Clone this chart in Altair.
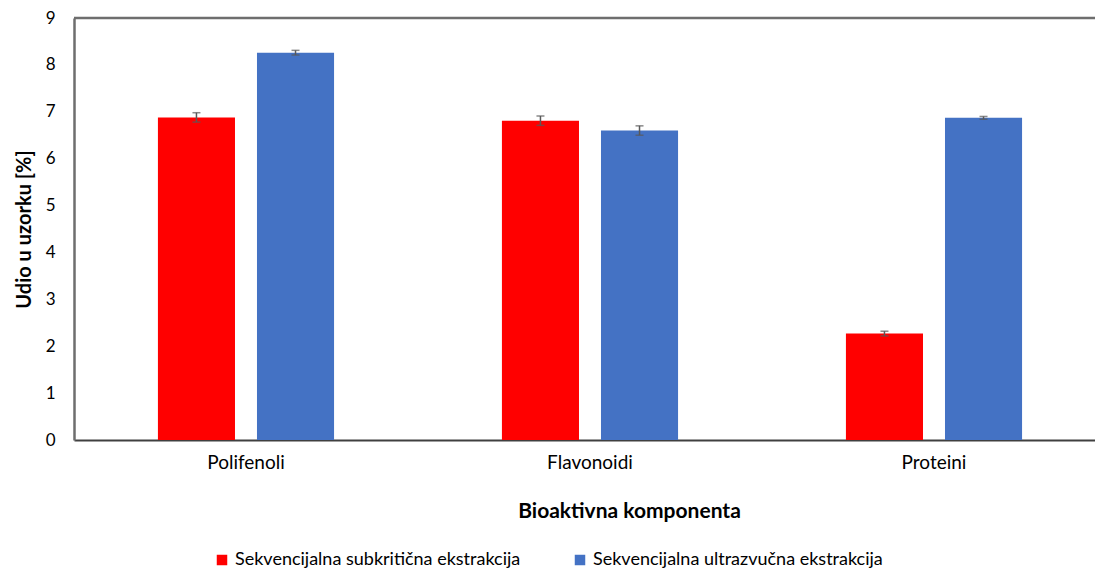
import altair as alt
import pandas as pd

categories = ["Polifenoli", "Flavonoidi", "Proteini"]
series = ["Sekvencijalna subkritična ekstrakcija", "Sekvencijalna ultrazvučna ekstrakcija"]
subcritical = [6.88, 6.81, 2.27]
subcritical_err = [0.10, 0.10, 0.05]
ultrasound = [8.26, 6.60, 6.87]
ultrasound_err = [0.05, 0.10, 0.03]
colors = ["#FF0000", "#4472C4"]

rows = []
for i, c in enumerate(categories):
    rows.append({"cat": c, "s": series[0], "v": subcritical[i], "lo": subcritical[i] - subcritical_err[i], "hi": subcritical[i] + subcritical_err[i]})
    rows.append({"cat": c, "s": series[1], "v": ultrasound[i], "lo": ultrasound[i] - ultrasound_err[i], "hi": ultrasound[i] + ultrasound_err[i]})
df = pd.DataFrame(rows)

FONT = "Lato"
W, H = 1021, 422
xscale = alt.Scale(paddingInner=0.488, paddingOuter=0.228, align=0.535)
xenc = alt.X("cat:N", sort=categories, title="Bioaktivna komponenta", scale=xscale,
             axis=alt.Axis(labelAngle=0, ticks=False, labelPadding=13, titlePadding=28,
                           titleX=555, titleAlign="center", titleAnchor="start",
                           labelFontSize=19, titleFontSize=21, labelFont=FONT, titleFont=FONT,
                           labelColor="#000", titleColor="#000", titleFontWeight="bold",
                           domainColor="#404040", domainWidth=2))
xoff = alt.XOffset("s:N", sort=series, scale=alt.Scale(paddingInner=0.222, paddingOuter=0))

base = alt.Chart(df)
bars = base.mark_bar().encode(
    x=xenc, xOffset=xoff,
    y=alt.Y("v:Q", title="Udio u uzorku [%]",
            scale=alt.Scale(domain=[0, 9], nice=False),
            axis=alt.Axis(values=list(range(10)), ticks=False, grid=False, labelPadding=19,
                          titlePadding=11, labelFontSize=17, titleFontSize=20,
                          labelFont=FONT, titleFont=FONT, labelColor="#000", titleColor="#000",
                          titleFontWeight="bold", domainColor="#6e6e6e", domainWidth=2.5)),
    color=alt.Color("s:N", sort=series, scale=alt.Scale(domain=series, range=colors),
                    legend=alt.Legend(title=None, orient="none", direction="horizontal",
                                      legendX=139, legendY=533, symbolType="square",
                                      symbolSize=110, symbolStrokeWidth=0, columnPadding=50,
                                      labelLimit=0, labelOffset=4,
                                      labelFontSize=18, labelFont=FONT, labelColor="#000")),
)
rules = base.mark_rule(color="#595959", strokeWidth=1.5).encode(
    x=alt.X("cat:N", sort=categories), xOffset=xoff, y="lo:Q", y2="hi:Q")
caps_hi = base.mark_tick(color="#595959", thickness=1.5, size=8, orient="horizontal").encode(
    x=alt.X("cat:N", sort=categories), xOffset=xoff, y="hi:Q")
caps_lo = base.mark_tick(color="#595959", thickness=1.5, size=8, orient="horizontal").encode(
    x=alt.X("cat:N", sort=categories), xOffset=xoff, y="lo:Q")
top_line = alt.Chart(pd.DataFrame({"k": [0]})).mark_rule(color="#6e6e6e", strokeWidth=2.5).encode(
    x=alt.value(0), x2=alt.value(W), y=alt.value(0))

chart = (bars + rules + caps_hi + caps_lo + top_line).properties(
    width=W, height=H,
    autosize=alt.AutoSizeParams(type="none"),
    padding={"left": 66, "top": 10, "right": 0, "bottom": 135},
).configure_view(stroke=None)

chart.save("out.html", embed_options={"renderer": "svg", "actions": False})
